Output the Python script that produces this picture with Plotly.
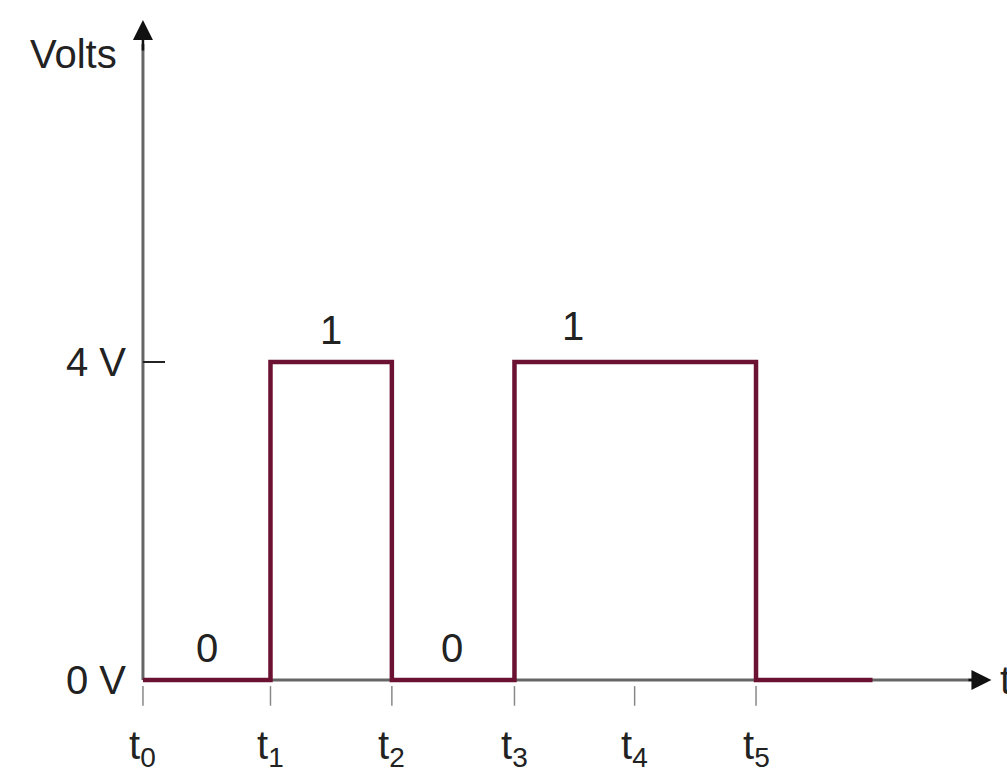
import plotly.graph_objects as go

# DATA
# time instants (t0 sits on the volts axis)
tick_names = ['t<sub>0</sub>', 't<sub>1</sub>', 't<sub>2</sub>', 't<sub>3</sub>', 't<sub>4</sub>', 't<sub>5</sub>']
tick_times = [0, 1.04, 2.03, 3.03, 4.01, 5.0]

# signal edges and the level that starts at each edge (volts)
edge_times = [0, 1.04, 2.03, 3.03, 5.0, 5.95]
edge_volts = [0, 4, 0, 4, 0, 0]

# logic values written over each stretch
bit_text = ['0', '1', '0', '1']
bit_time = [0.52, 1.53, 2.52, 3.51]
bit_volts = [0.4, 4.4, 0.4, 4.45]

level_names = ['0 V', '4 V']
level_volts = [0, 4]

# axis extents (data units)
t_axis_end = 6.92
v_axis_end = 8.3

FONT = 'Liberation Sans, Arial'
TXT = '#222222'
AXC = '#666666'
SIG = '#6b1232'

fig = go.Figure()

# axis lines
fig.add_trace(go.Scatter(x=[0, t_axis_end - 0.1], y=[0, 0], mode='lines',
                         line=dict(color=AXC, width=3), hoverinfo='skip', showlegend=False))
fig.add_trace(go.Scatter(x=[0, 0], y=[0, v_axis_end - 0.3], mode='lines',
                         line=dict(color=AXC, width=3), hoverinfo='skip', showlegend=False))

# arrow heads
fig.add_annotation(x=t_axis_end, y=0, ax=t_axis_end - 0.2, ay=0, xref='x', yref='y', axref='x', ayref='y',
                   text='', showarrow=True, arrowhead=2, arrowsize=1.6, arrowwidth=2.5, arrowcolor='#111111')
fig.add_annotation(x=0, y=v_axis_end, ax=0, ay=v_axis_end - 0.4, xref='x', yref='y', axref='x', ayref='y',
                   text='', showarrow=True, arrowhead=2, arrowsize=1.6, arrowwidth=2.5, arrowcolor='#111111')

# signal
fig.add_trace(go.Scatter(x=edge_times, y=edge_volts, mode='lines',
                         line=dict(color=SIG, width=4.5, shape='hv'),
                         hoverinfo='skip', showlegend=False))

# small tick marks under the time axis
fig.add_trace(go.Scatter(x=tick_times, y=[-0.2] * len(tick_times), mode='markers',
                         marker=dict(symbol='line-ns', size=14, line=dict(color='#888888', width=1.5)),
                         hoverinfo='skip', showlegend=False))

# 4 V dash on volts axis
fig.add_trace(go.Scatter(x=[0, 0.18], y=[level_volts[1]] * 2, mode='lines',
                         line=dict(color=TXT, width=2), hoverinfo='skip', showlegend=False))

# axis names
fig.add_annotation(x=-0.57, y=v_axis_end - 0.42, text='Volts', showarrow=False,
                   font=dict(family=FONT, size=40, color=TXT))
fig.add_annotation(x=t_axis_end + 0.05, y=0, text='t', showarrow=False, xanchor='left',
                   font=dict(family=FONT, size=40, color=TXT))

# level labels
for name, v in zip(level_names, level_volts):
    fig.add_annotation(x=-0.12, y=v, text=name, showarrow=False, xanchor='right',
                       font=dict(family=FONT, size=40, color=TXT))

# time labels
for name, t in zip(tick_names, tick_times):
    fig.add_annotation(x=t, y=-0.85, text=name, showarrow=False,
                       font=dict(family=FONT, size=40, color=TXT))

# bit values
for b, t, v in zip(bit_text, bit_time, bit_volts):
    fig.add_annotation(x=t, y=v, text=b, showarrow=False,
                       font=dict(family=FONT, size=40, color=TXT))

fig.update_xaxes(range=[-1.166, 7.047], visible=False, fixedrange=True)
fig.update_yaxes(range=[-1.245, 8.553], visible=False, fixedrange=True)
fig.update_layout(width=1007, height=779, margin=dict(l=0, r=0, t=0, b=0),
                  plot_bgcolor='white', paper_bgcolor='white')

fig.write_html('out.html', config={'displayModeBar': False},
               post_script="document.body.style.margin='0px';")
